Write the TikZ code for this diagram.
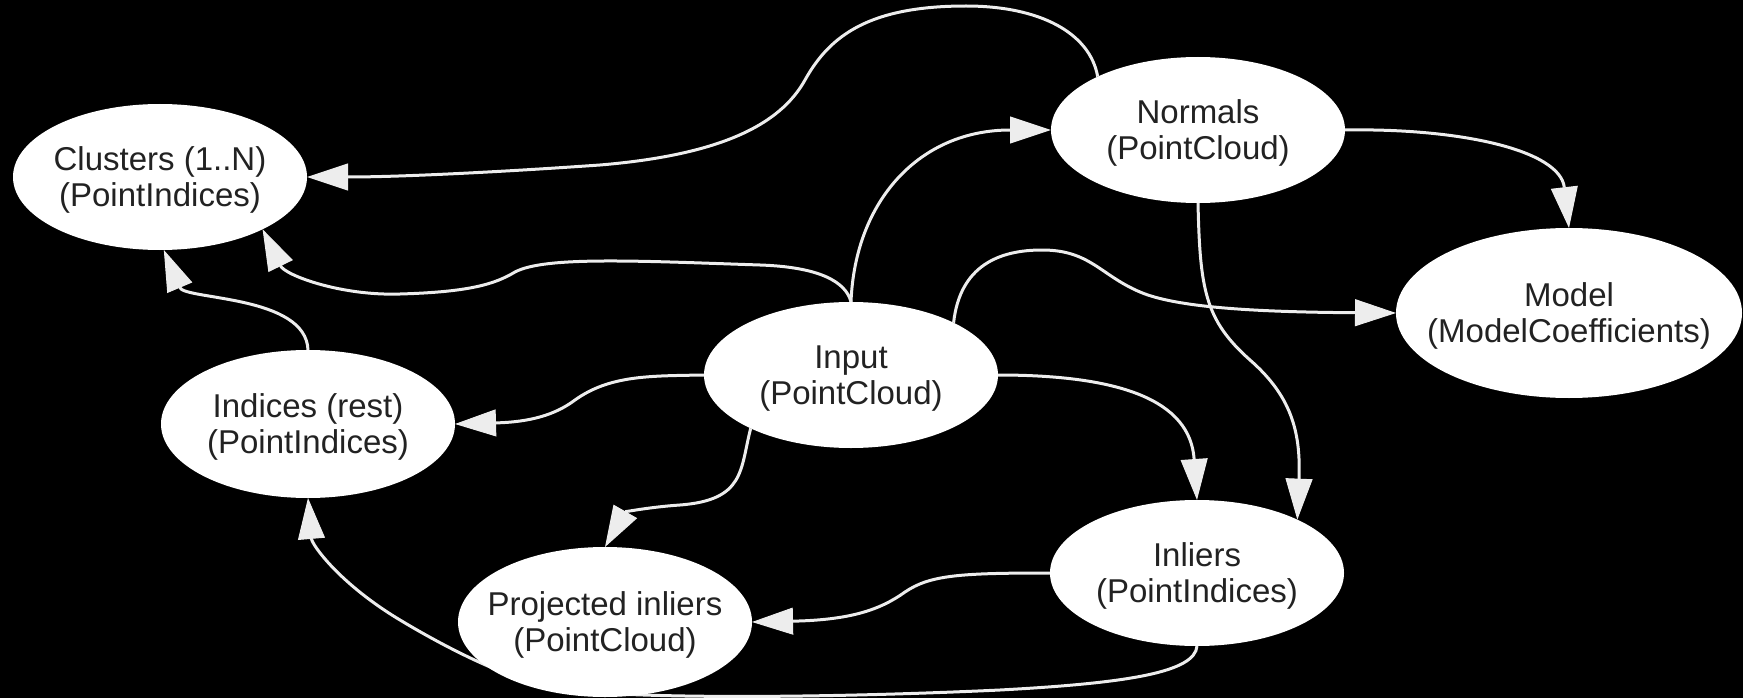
\documentclass[tikz,border=0pt]{standalone}
\usepackage{fontspec}
\setmainfont{Liberation Sans}
\usetikzlibrary{shapes.geometric,arrows.meta}
\pgfdeclarelayer{bg}
\pgfdeclarelayer{edges}
\pgfsetlayers{bg,edges,main}
\definecolor{wire}{HTML}{EDEDED}
\definecolor{ink}{HTML}{222222}
% two centred lines that do not widen the ellipse
\newcommand{\twolines}[2]{\makebox[0pt]{\rule{0pt}{29pt}#1}\\\makebox[0pt]{#2}}

\begin{document}
\begin{tikzpicture}[x=1pt,y=-1pt,
  datanode/.style={ellipse, fill=white, inner sep=0pt, outer sep=0pt,
    minimum width=294pt, minimum height=146pt, text=ink, align=center,
    font=\fontsize{33}{36}\selectfont},
  widenode/.style={datanode, minimum width=346pt, minimum height=170pt},
  flow/.style={draw=wire, line width=3pt,
    -{Triangle[length=41pt,width=27pt,line width=1pt]}}]

\begin{pgfonlayer}{bg}
  \fill[black] (0,0) rectangle (1743,698);
\end{pgfonlayer}
\useasboundingbox (0,0) rectangle (1743,698);

% data nodes
\node[datanode] (clu) at (160,177) {\twolines{Clusters (1..N)}{(PointIndices)}};
\node[datanode, minimum height=148pt] (idx) at (308,424) {\twolines{Indices (rest)}{(PointIndices)}};
\node[datanode] (inp) at (851,375) {\twolines{Input}{(PointCloud)}};
\node[datanode] (nor) at (1198,130) {\twolines{Normals}{(PointCloud)}};
\node[widenode] (mod) at (1569,313) {\twolines{Model}{(ModelCoefficients)}};
\node[datanode] (inl) at (1197,573) {\twolines{Inliers}{(PointIndices)}};
\node[datanode, minimum height=150pt] (pro) at (605,622) {\twolines{Projected inliers}{(PointCloud)}};

\begin{pgfonlayer}{edges}
  % normals -> clusters, looping over the top
  \draw[flow] (nor.152) .. controls (1090,33) and (1040,6) .. (966,6)
    .. controls (870,6) and (830,35) .. (805,80)
    .. controls (780,125) and (720,155) .. (600,165)
    .. controls (500,172) and (400,177) .. (clu.east);
  % input -> normals
  \draw[flow] (inp.north) .. controls (855,200) and (920,130) .. (nor.west);
  % input -> clusters
  \draw[flow] (inp.north) .. controls (846,282) and (820,267) .. (760,265)
    .. controls (640,261) and (545,256) .. (515,272)
    .. controls (495,284) and (470,292) .. (400,294)
    .. controls (340,296) and (285,275) .. (clu.-27);
  % indices -> clusters
  \draw[flow] (idx.north) .. controls (306,295) and (185,300) .. (clu.-87);
  % input -> indices
  \draw[flow] (inp.west) .. controls (650,376) and (610,375) .. (575,400)
    .. controls (555,415) and (530,422) .. (idx.east);
  % input -> projected inliers
  \draw[flow] (inp.208) .. controls (740,470) and (745,500) .. (680,505)
    .. controls (650,507) and (625,512) .. (pro.north);
  % normals -> model
  \draw[flow] (nor.east) .. controls (1460,128) and (1560,150) .. (mod.north);
  % normals -> inliers
  \draw[flow] (nor.south) .. controls (1200,290) and (1205,320) .. (1250,360)
    .. controls (1290,395) and (1301,430) .. (inl.28);
  % input -> model
  \draw[flow] (inp.27) .. controls (960,265) and (1000,250) .. (1042,250)
    .. controls (1090,250) and (1100,275) .. (1140,292)
    .. controls (1175,307) and (1250,312) .. (mod.west);
  % input -> inliers
  \draw[flow] (inp.east) .. controls (1120,375) and (1190,400) .. (inl.north);
  % inliers -> projected inliers
  \draw[flow] (inl.west) .. controls (960,573) and (930,575) .. (905,592)
    .. controls (880,610) and (850,620) .. (pro.east);
  % inliers -> indices, along the bottom
  \draw[flow] (inl.south) .. controls (1195,672) and (1130,683) .. (1000,690)
    .. controls (850,697) and (660,700) .. (560,690)
    .. controls (510,680) and (450,650) .. (400,620)
    .. controls (340,584) and (312,545) .. (idx.south);
\end{pgfonlayer}
\end{tikzpicture}
\end{document}
